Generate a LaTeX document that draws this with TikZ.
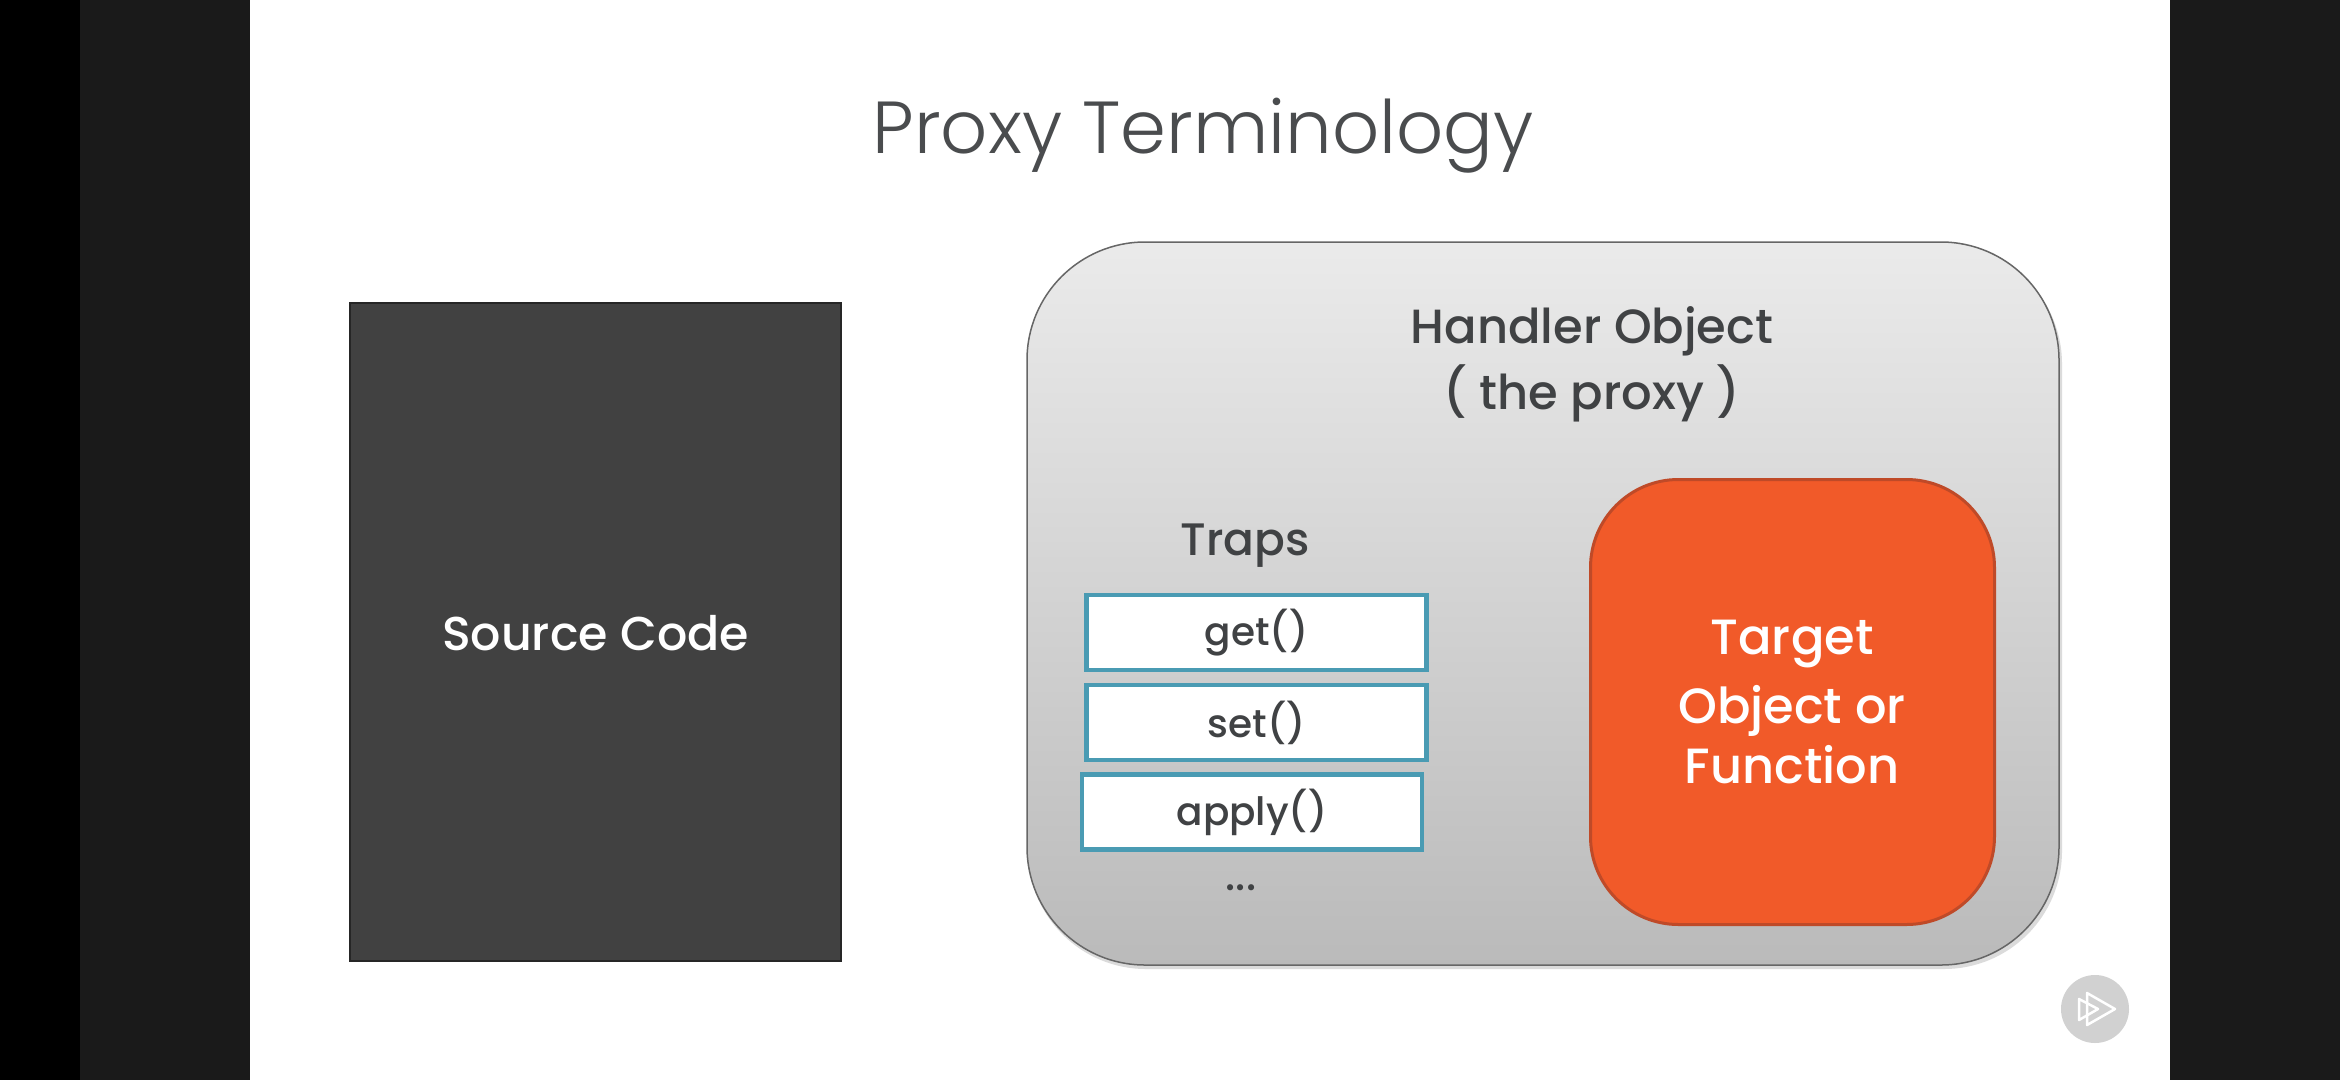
\documentclass[tikz,border=0pt]{standalone}
\usepackage{fontspec}
\setmainfont{Poppins Medium}
\newfontfamily\titlefont{Poppins Light}
\usetikzlibrary{calc}
\definecolor{panel}{HTML}{1A1A1A}
\definecolor{inktext}{HTML}{404244}
\definecolor{titleink}{HTML}{4A4C4E}
\definecolor{srcfill}{HTML}{414141}
\definecolor{teal}{HTML}{4A9BB3}
\definecolor{targetfill}{HTML}{F15A29}
\definecolor{targetedge}{HTML}{BF4A28}
\tikzset{
  x=1pt,y=-1pt,
  trapbox/.style={draw=teal,line width=4.5pt,fill=white,minimum width=340pt,minimum height=75pt,inner sep=0pt,text=inktext,font=\fontsize{39}{39}\selectfont},
  heading/.style={text=inktext,font=\fontsize{48}{66}\selectfont,align=center,inner sep=0pt},
  onorange/.style={text=white,font=\fontsize{49.5}{60}\selectfont,align=center,inner sep=0pt},
}
\begin{document}
\begin{tikzpicture}
\useasboundingbox (0,0) rectangle (2340,1080);
\fill[black] (0,0) rectangle (2340,1080);
\fill[panel] (80,0) rectangle (2340,1080);
\fill[white] (250,0) rectangle (2170,1080);
\node[inner sep=0pt,text=titleink,font=\titlefont\fontsize{73.7}{73.7}\selectfont] (title) at (1203,136) {Proxy Terminology};
\node[draw=black!85,line width=2pt,fill=srcfill,minimum width=491pt,minimum height=658pt,text=white,font=\fontsize{47.5}{47.5}\selectfont,inner sep=0pt] (source) at (595.5,632) {};
\node[text=white,font=\fontsize{47.5}{47.5}\selectfont,inner sep=0pt] (sourcelabel) at (source.center) [yshift=-1.5pt] {Source Code};
\fill[black!40,opacity=.35,rounded corners=118pt] (1028,246) rectangle (2062,969);
\node[draw=black!60,line width=1.5pt,rounded corners=118pt,top color=black!8,bottom color=black!27,minimum width=1032pt,minimum height=723pt,inner sep=0pt] (handler) at (1543,603.5) {};
\node[heading] (htitle) at (1592,364) {Handler Object\\( the proxy )};
\node[heading,font=\fontsize{45.5}{66}\selectfont] (traps) at (1245,546) {Traps};
\node[trapbox] (get) at (1256.5,632.5) {get()};
\node[trapbox] (set) at (1256.5,722.5) {set()};
\node[trapbox] (apply) at (1252,812) {apply()};
\node[inner sep=0pt,text=inktext,font=\fontsize{42}{42}\selectfont] (more) at (1241,888) {...};
\node[draw=targetedge,line width=3pt,rounded corners=88pt,fill=targetfill,minimum width=404pt,minimum height=445pt,inner sep=0pt] (target) at (1792.5,702) {};
\node[onorange] (ttext) at (1792,702) {Target\\[9pt]Object or\\Function};
\node[circle,fill=black!18,minimum size=68pt,inner sep=0pt] (play) at (2095,1009) {};
\draw[white,line width=2.5pt,line join=round] ($(play)+(-16,-10)$) -- ($(play)+(3,0)$) -- ($(play)+(-16,11)$) -- cycle;
\draw[white,line width=2.5pt,line join=round] ($(play)+(-8,-16)$) -- ($(play)+(20,0)$) -- ($(play)+(-8,16)$) -- cycle;
\end{tikzpicture}
\end{document}
